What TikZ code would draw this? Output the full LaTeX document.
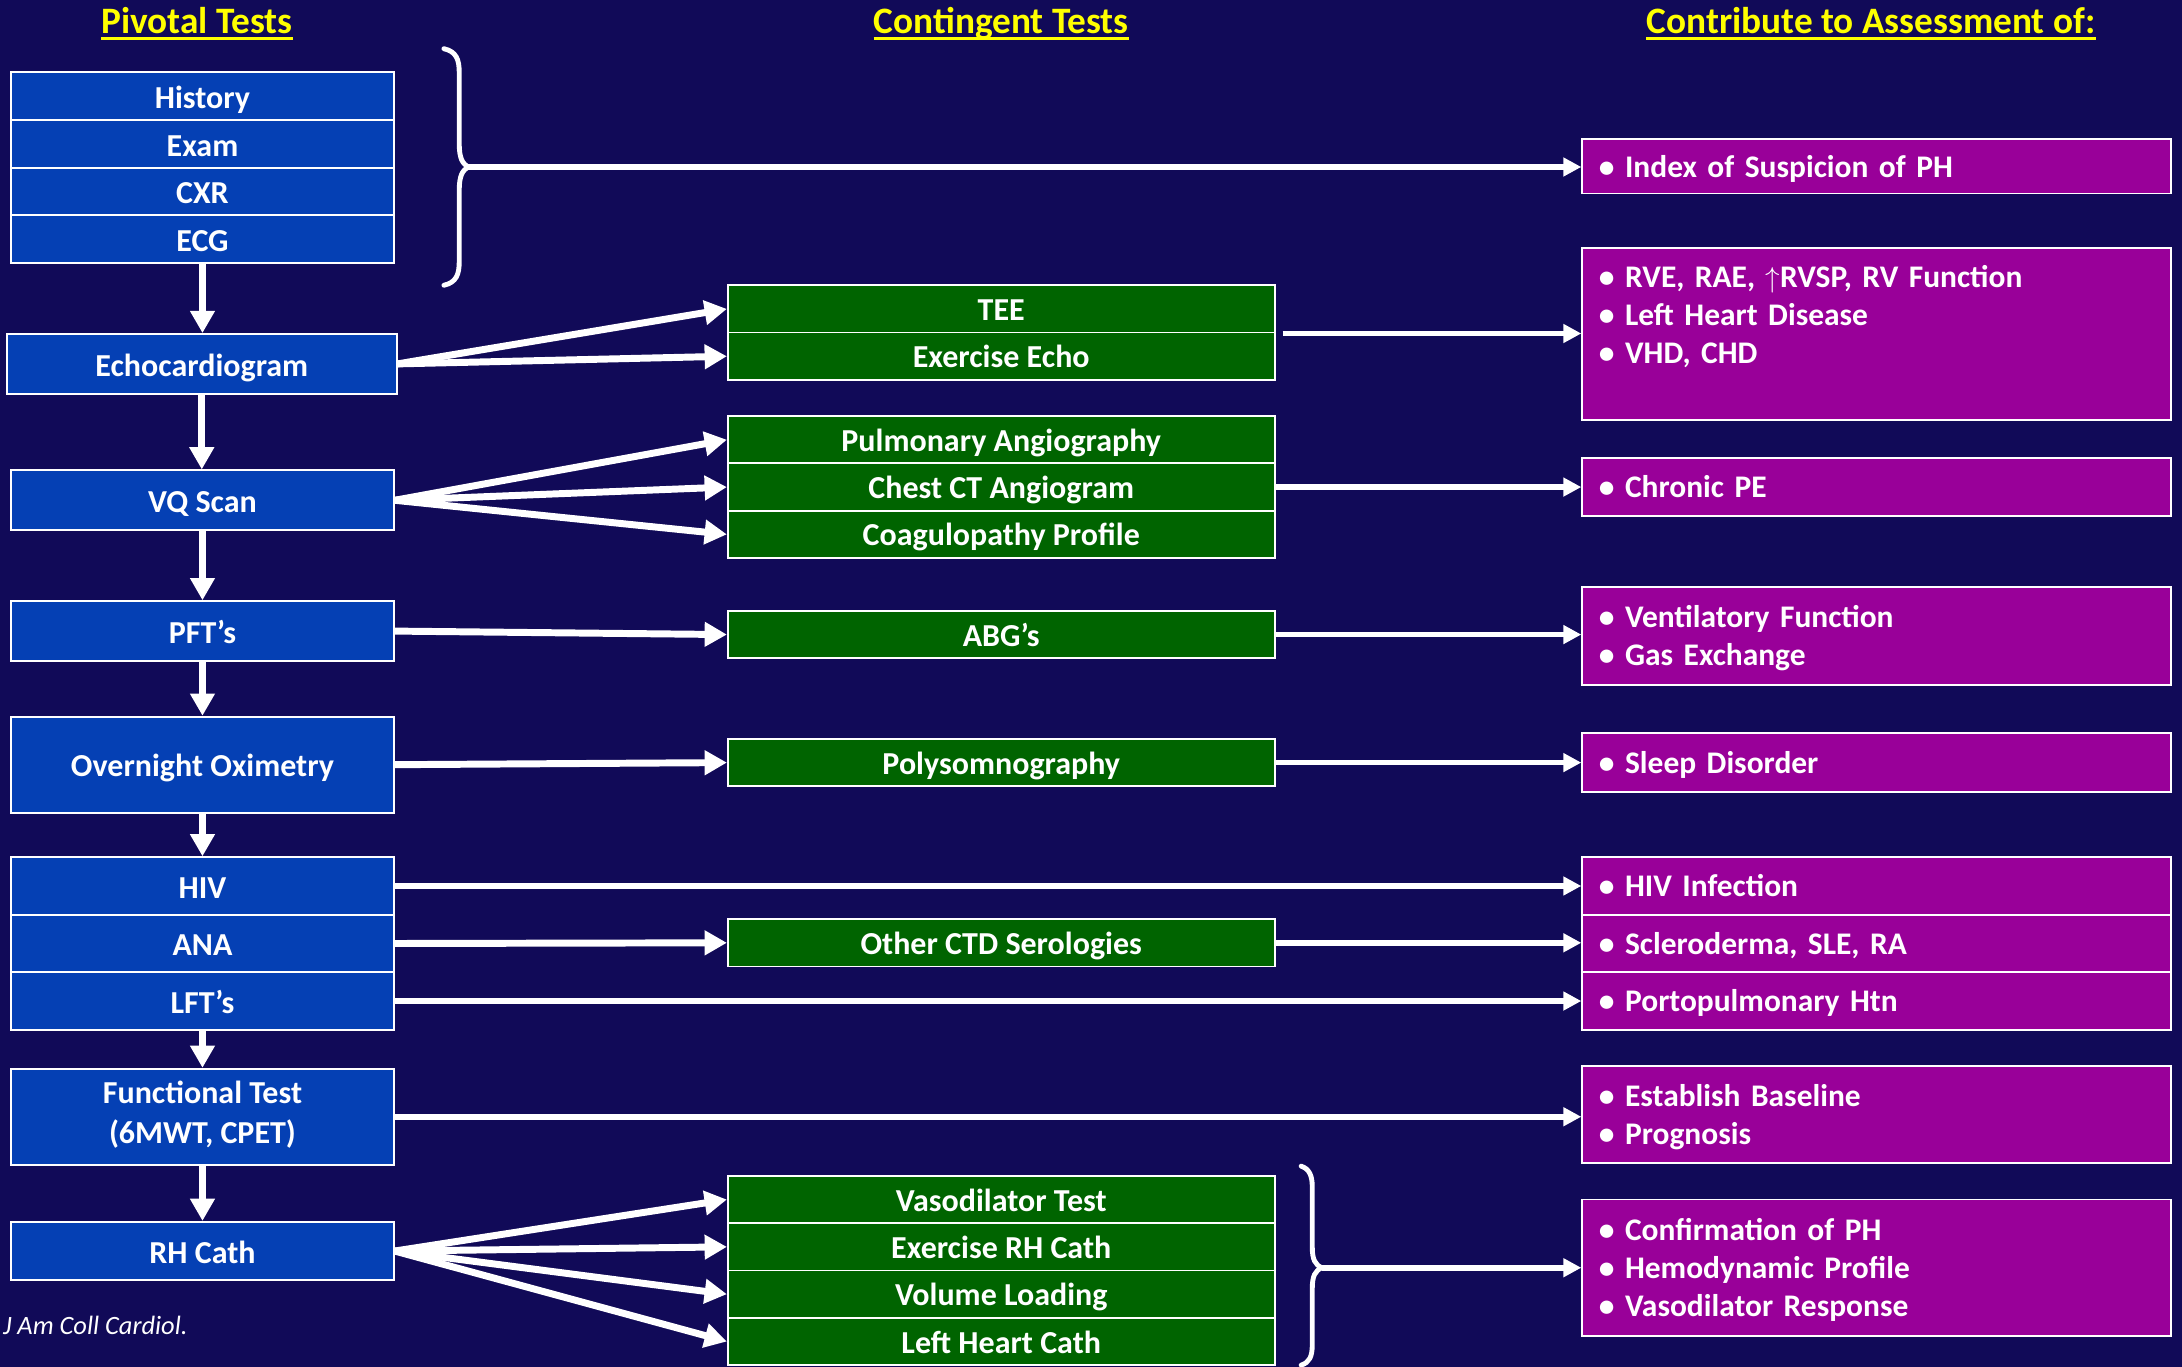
\documentclass[tikz,border=0pt]{standalone}
\usepackage{fontspec}
\setmainfont{Carlito}
\usetikzlibrary{arrows.meta}
\definecolor{bgc}{RGB}{17,10,88}
\definecolor{bluec}{RGB}{5,64,180}
\definecolor{greenc}{RGB}{0,100,0}
\definecolor{purplec}{RGB}{153,0,153}
\definecolor{yellowc}{RGB}{255,255,0}
\tikzset{
  box/.style={draw=white, line width=1.3pt, inner sep=0pt, text=white,
    font=\fontsize{23}{28}\selectfont\bfseries, align=center,
    execute at end node={\rule[-6.4pt]{0pt}{6.4pt}}},
  bbox/.style={box, fill=bluec, minimum width=275pt, execute at begin node={\rule{0pt}{24pt}}},
  gbox/.style={box, fill=greenc, minimum width=393pt, minimum height=34pt, execute at begin node={\rule{0pt}{23pt}}},
  pbox/.style={box, fill=purplec, text width=399pt, align=left, inner xsep=12pt, inner ysep=0pt,
    font=\fontsize{22.6}{27.5}\selectfont\bfseries, execute at begin node={\rule{0pt}{22pt}}},
  hdr/.style={text=yellowc, inner sep=0pt, font=\fontsize{26.8}{32}\selectfont\bfseries},
  uline/.style={draw=yellowc, line width=2pt},
  bigarr/.style={draw=white, line width=5pt, -{Triangle[length=16pt,width=17pt]}},
  longarr/.style={draw=white, line width=4pt, -{Triangle[length=13pt,width=13pt]}},
  bracestyle/.style={draw=white, line width=3.5pt, line cap=round, line join=round}
}
\begin{document}
\begin{tikzpicture}[x=1pt,y=-1pt]
\fill[bgc] (0,0) rectangle (1568,982);
\useasboundingbox (0,0) rectangle (1568,982);

% headers
\node[hdr, anchor=base] (h1) at (141.5,24) {Pivotal Tests};
\node[hdr, anchor=base] (h2) at (719.5,24) {Contingent Tests};
\node[hdr, anchor=base] (h3) at (1344.5,24) {Contribute to Assessment of:};
\foreach \h in {h1,h2,h3}{
  \draw[uline] ([yshift=-3.5pt]\h.base west) -- ([yshift=-3.5pt]\h.base east);
}

% pivotal tests (blue)
\node[bbox, minimum height=34.25pt] (hist) at (145.5,69.125) {History};
\node[bbox, minimum height=34.25pt] (exam) at (145.5,103.375) {Exam};
\node[bbox, minimum height=34.25pt] (cxr) at (145.5,137.625) {CXR};
\node[bbox, minimum height=34.25pt] (ecg) at (145.5,171.875) {ECG};
\node[bbox, minimum width=280pt, minimum height=43pt] (echo) at (145,261.5) {Echocardiogram};
\node[bbox, minimum height=43pt] (vq) at (145.5,359.5) {VQ Scan};
\node[bbox, minimum height=43pt] (pft) at (145.5,453.5) {PFT’s};
\node[bbox, minimum height=69pt] (oxi) at (145.5,549.5) {Overnight Oximetry};
\node[bbox, minimum height=41.33pt] (hiv) at (145.5,636.67) {HIV};
\node[bbox, minimum height=41.33pt] (ana) at (145.5,678) {ANA};
\node[bbox, minimum height=41.33pt] (lft) at (145.5,719.33) {LFT’s};
\node[bbox, minimum height=69pt, execute at begin node={\rule{0pt}{29pt}}] (func) at (145.5,802.5) {Functional Test\\[1pt](6MWT, CPET)};
\node[bbox, minimum height=42pt] (rh) at (145.5,899) {RH Cath};

% contingent tests (green)
\node[gbox] (tee) at (719.5,222) {TEE};
\node[gbox] (exe) at (719.5,256) {Exercise Echo};
\node[gbox] (pa) at (719.5,316) {Pulmonary Angiography};
\node[gbox] (ct) at (719.5,350) {Chest CT Angiogram};
\node[gbox] (coag) at (719.5,384) {Coagulopathy Profile};
\node[gbox] (abg) at (719.5,456) {ABG’s};
\node[gbox] (poly) at (719.5,548) {Polysomnography};
\node[gbox] (ctd) at (719.5,677.5) {Other CTD Serologies};
\node[gbox] (vaso) at (719.5,862) {Vasodilator Test};
\node[gbox] (exrh) at (719.5,896) {Exercise RH Cath};
\node[gbox] (vol) at (719.5,930) {Volume Loading};
\node[gbox] (lhc) at (719.5,964) {Left Heart Cath};

% assessment (purple)
\node[pbox, minimum height=39pt] (idx) at (1348.5,119.5) {• Index of Suspicion of PH};
\node[pbox, minimum height=124pt] (rve) at (1348.5,240) {• RVE, RAE, $\uparrow$RVSP, RV Function\\• Left Heart Disease\\• VHD, CHD\\\mbox{}};
\node[pbox, minimum height=42pt] (pe) at (1348.5,350) {• Chronic PE};
\node[pbox, minimum height=70pt] (vent) at (1348.5,457) {• Ventilatory Function\\• Gas Exchange};
\node[pbox, minimum height=42pt] (sleep) at (1348.5,548) {• Sleep Disorder};
\node[pbox, minimum height=41.33pt] (hivi) at (1348.5,636.67) {• HIV Infection};
\node[pbox, minimum height=41.33pt] (scl) at (1348.5,678) {• Scleroderma, SLE, RA};
\node[pbox, minimum height=41.33pt] (porto) at (1348.5,719.33) {• Portopulmonary Htn};
\node[pbox, minimum height=70pt] (base) at (1348.5,801) {• Establish Baseline\\• Prognosis};
\node[pbox, minimum height=98pt] (conf) at (1348.5,911) {• Confirmation of PH\\• Hemodynamic Profile\\• Vasodilator Response};

% citation
\node[anchor=base west, inner sep=0pt, text=white, font=\fontsize{19}{21}\selectfont\itshape] (cit) at (2,959) {J Am Coll Cardiol.};

% braces
\coordinate (b1) at (337,120);
\draw[bracestyle] (319,35) .. controls (328,37) and (330,43) .. (330,52) -- (330,103)
  .. controls (330,113) and (332,118) .. (b1)
  .. controls (332,122) and (330,127) .. (330,137) -- (330,188)
  .. controls (330,197) and (328,203) .. (319,205);
\coordinate (b2) at (950,911);
\draw[bracestyle] (935,838) .. controls (941,840) and (943,845) .. (943,853) -- (943,896)
  .. controls (943,905) and (945,909) .. (b2)
  .. controls (945,913) and (943,917) .. (943,926) -- (943,966)
  .. controls (943,975) and (941,979) .. (935,981);

% down arrows
\draw[bigarr] (ecg.south) -- (ecg.south |- echo.north);
\draw[bigarr] (echo.south) -- (echo.south |- vq.north);
\draw[bigarr] (vq.south) -- (pft.north);
\draw[bigarr] (pft.south) -- (oxi.north);
\draw[bigarr] (oxi.south) -- (hiv.north);
\draw[bigarr] (lft.south) -- (func.north);
\draw[bigarr] (func.south) -- (rh.north);

% blue -> green
\draw[bigarr] (echo.east) -- (tee.west);
\draw[bigarr] (echo.east) -- (exe.west);
\draw[bigarr] (vq.east) -- (pa.west);
\draw[bigarr] (vq.east) -- (ct.west);
\draw[bigarr] (vq.east) -- (coag.west);
\draw[bigarr] (pft.east) -- (abg.west);
\draw[bigarr] (oxi.east) -- (poly.west);
\draw[bigarr] (ana.east) -- (ctd.west);
\draw[bigarr] (rh.east) -- (vaso.west);
\draw[bigarr] (rh.east) -- (exrh.west);
\draw[bigarr] (rh.east) -- (vol.west);
\draw[bigarr] (rh.east) -- (lhc.west);

% -> purple
\coordinate (teeout) at ([xshift=5pt]tee.south east);
\draw[longarr] (b1) -- (b1 -| idx.west);
\draw[longarr] (teeout) -- (teeout -| rve.west);
\draw[longarr] (ct.east) -- (ct.east -| pe.west);
\draw[longarr] (abg.east) -- (abg.east -| vent.west);
\draw[longarr] (poly.east) -- (poly.east -| sleep.west);
\draw[longarr] (hiv.east) -- (hiv.east -| hivi.west);
\draw[longarr] (ctd.east) -- (ctd.east -| scl.west);
\draw[longarr] (lft.east) -- (lft.east -| porto.west);
\draw[longarr] (func.east) -- (func.east -| base.west);
\draw[longarr] (b2) -- (b2 -| conf.west);
\end{tikzpicture}
\end{document}
